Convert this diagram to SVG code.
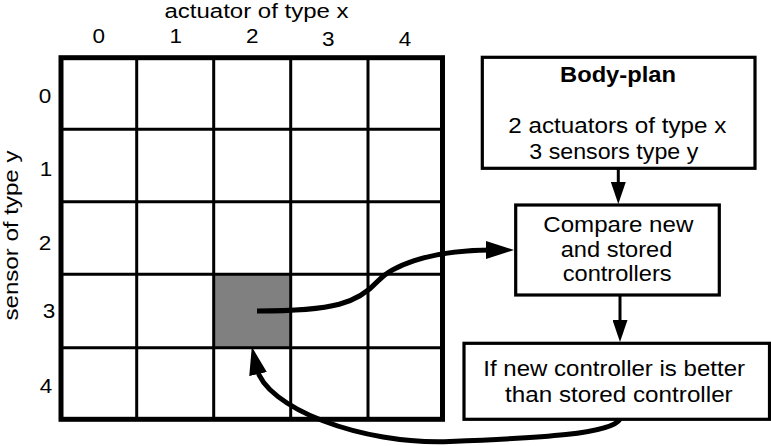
<svg xmlns="http://www.w3.org/2000/svg" width="771" height="446" viewBox="0 0 771 446">
<defs>
<style>
text{font-family:"Liberation Sans",Arial,sans-serif;fill:#000}
.ax{font-size:20px}
.dg{font-size:20px;text-anchor:middle}
.bx{font-size:21.5px}
.bold{font-weight:bold}
.grid{stroke:#000;stroke-width:3;fill:none}
.outer{stroke:#000;stroke-width:5;fill:none}
.box{fill:#fff;stroke:#000;stroke-width:3.2}
.curve{fill:none;stroke:#000;stroke-width:5}
.vline{fill:none;stroke:#000;stroke-width:3}
</style>
<marker id="bigArrow" viewBox="0 0 28 18" refX="6" refY="9" markerWidth="28" markerHeight="18" markerUnits="userSpaceOnUse" orient="auto">
<path d="M0,0 L28,9 L0,18 Z" fill="#000"/>
</marker>
<marker id="smallArrow" viewBox="0 0 22 15" refX="6" refY="7.5" markerWidth="22" markerHeight="15" markerUnits="userSpaceOnUse" orient="auto">
<path d="M0,0 L22,7.5 L0,15 Z" fill="#000"/>
</marker>
</defs>
<rect width="771" height="446" fill="#fff"/>

<g id="grid">
<rect x="213.7" y="274.3" width="77" height="73.4" fill="#808080"/>
<path class="grid" d="M136.7,57.7V419.3M213.7,57.7V419.3M290.7,57.7V419.3M368,57.7V419.3M61,129.3H442.5M61,201.7H442.5M61,274.3H442.5M61,347.7H442.5"/>
<rect class="outer" x="61" y="57.7" width="381.5" height="361.6"/>
<text class="ax" x="164.5" y="18" textLength="184" lengthAdjust="spacingAndGlyphs">actuator of type x</text>
<text class="ax" transform="translate(18,320.5) rotate(-90)" textLength="170" lengthAdjust="spacingAndGlyphs">sensor of type y</text>
<text class="dg" x="98.7" y="43.3" textLength="12.5" lengthAdjust="spacingAndGlyphs">0</text>
<text class="dg" x="175.7" y="43.3" textLength="12.5" lengthAdjust="spacingAndGlyphs">1</text>
<text class="dg" x="252.3" y="43.3" textLength="12.5" lengthAdjust="spacingAndGlyphs">2</text>
<text class="dg" x="328.3" y="45.7" textLength="12.5" lengthAdjust="spacingAndGlyphs">3</text>
<text class="dg" x="405" y="45.7" textLength="12.5" lengthAdjust="spacingAndGlyphs">4</text>
<text class="dg" x="45" y="103.3" textLength="12.5" lengthAdjust="spacingAndGlyphs">0</text>
<text class="dg" x="46" y="176" textLength="12.5" lengthAdjust="spacingAndGlyphs">1</text>
<text class="dg" x="45" y="250" textLength="12.5" lengthAdjust="spacingAndGlyphs">2</text>
<text class="dg" x="49" y="318" textLength="12.5" lengthAdjust="spacingAndGlyphs">3</text>
<text class="dg" x="46" y="393" textLength="12.5" lengthAdjust="spacingAndGlyphs">4</text>
</g>

<g id="body-plan">
<rect class="box" x="482.3" y="57.3" width="272.7" height="111"/>
<text class="bx bold" x="560" y="82" textLength="116" lengthAdjust="spacingAndGlyphs">Body-plan</text>
<text class="bx" x="508.3" y="133" textLength="218" lengthAdjust="spacingAndGlyphs">2 actuators of type x</text>
<text class="bx" x="529.3" y="159" textLength="169" lengthAdjust="spacingAndGlyphs">3 sensors type y</text>
</g>

<g id="compare">
<rect class="box" x="515.7" y="205" width="203.6" height="90"/>
<text class="bx" x="543.3" y="231.7" textLength="150" lengthAdjust="spacingAndGlyphs">Compare new</text>
<text class="bx" x="560.7" y="256.7" textLength="111.6" lengthAdjust="spacingAndGlyphs">and stored</text>
<text class="bx" x="562.7" y="281" textLength="109" lengthAdjust="spacingAndGlyphs">controllers</text>
</g>

<g id="decision">
<rect class="box" x="464" y="343.3" width="305.5" height="76"/>
<text class="bx" x="483.3" y="376" textLength="261.7" lengthAdjust="spacingAndGlyphs">If new controller is better</text>
<text class="bx" x="505" y="401.7" textLength="227.7" lengthAdjust="spacingAndGlyphs">than stored controller</text>
</g>

<g id="connectors">
<path class="vline" d="M618.3,168.3V188" marker-end="url(#smallArrow)"/>
<path class="vline" d="M620,295V326" marker-end="url(#smallArrow)"/>
<path class="curve" d="M257,311 C335,311 358,303 378,281 C390,268 425,250 492,250" marker-end="url(#bigArrow)"/>
<path class="curve" d="M620,419 C612,434 540,438 450,441.5 C360,445 265.6,407.2 256.7,368.2" marker-end="url(#bigArrow)"/>
</g>
</svg>
